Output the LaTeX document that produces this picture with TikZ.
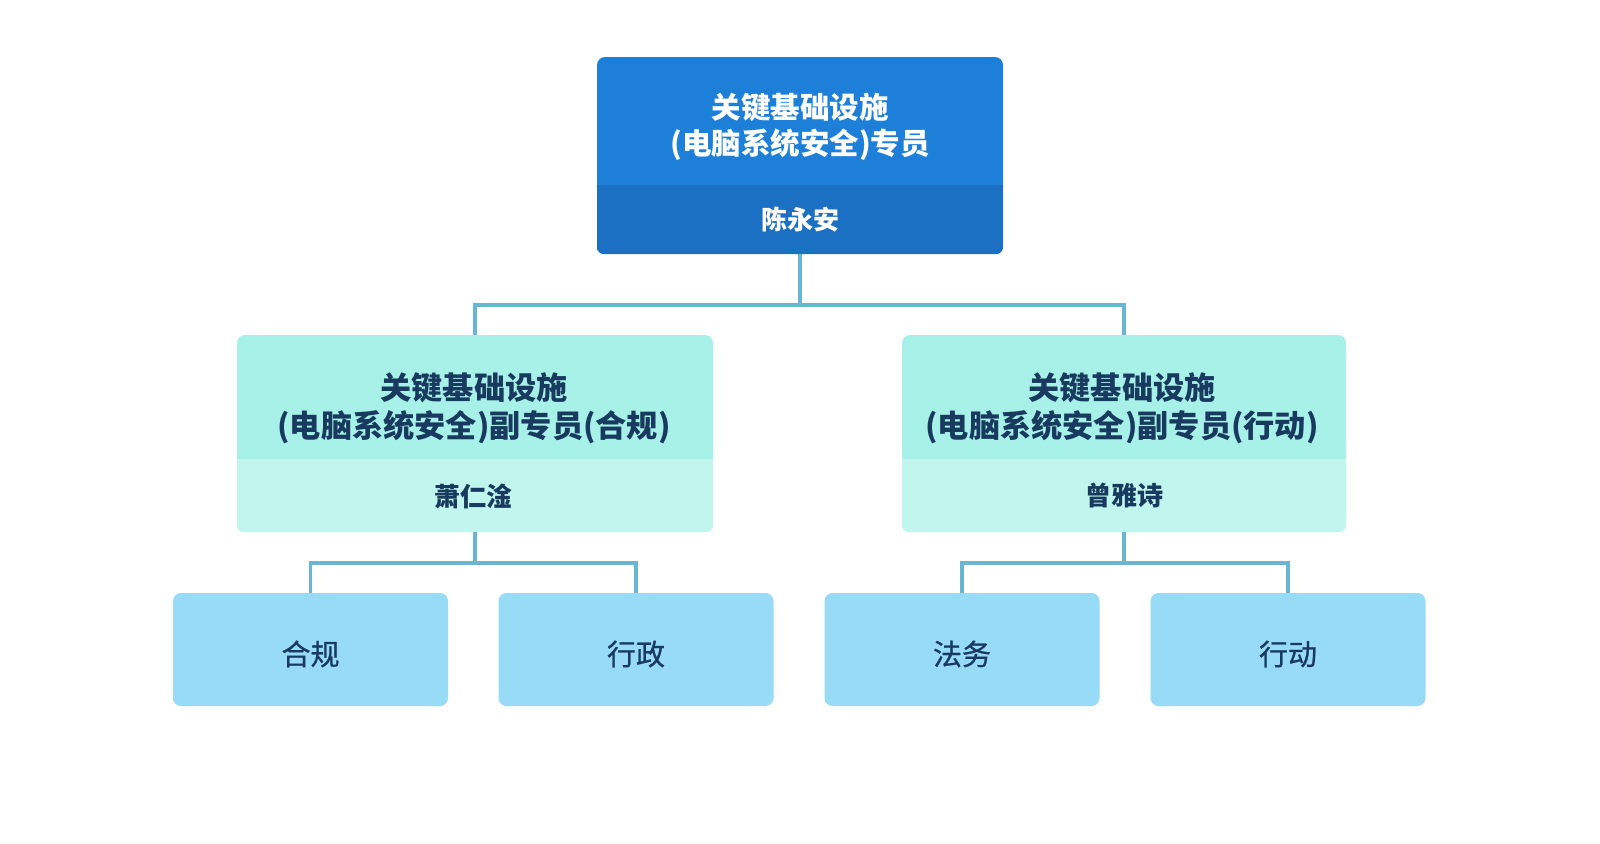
\documentclass[tikz,border=0pt]{standalone}
\usepackage{fontspec}
\setmainfont{Noto Sans CJK SC}
\newfontfamily\unitfont{Noto Sans CJK SC}[FakeBold=0.8]
\usetikzlibrary{positioning}

\definecolor{chiefBlue}{HTML}{1E7FD9}
\definecolor{chiefBand}{HTML}{1B70C3}
\definecolor{deputyTop}{HTML}{A8F1E9}
\definecolor{deputyBand}{HTML}{C1F6EF}
\definecolor{unitBlue}{HTML}{98DBF6}
\definecolor{linkBlue}{HTML}{69B6D4}
\definecolor{inkNavy}{HTML}{173A5E}

\tikzset{
  box/.style={rectangle, rounded corners=4pt, inner sep=0pt, draw=none},
  chiefbox/.style={box, fill=chiefBlue, minimum width=203pt, minimum height=98.5pt},
  deputybox/.style={box, fill=deputyTop, minimum height=98.5pt},
  unitbox/.style={box, fill=unitBlue, minimum width=137.5pt, minimum height=56.5pt,
    text=inkNavy, text height=15.5pt, text depth=0pt,
    font=\unitfont\fontsize{14.5pt}{17pt}\selectfont},
  titletext/.style={align=center, font=\fontsize{14.75pt}{17.9pt}\selectfont\bfseries},
  deputytext/.style={align=center, text=inkNavy, font=\fontsize{15.6pt}{18.9pt}\selectfont\bfseries},
  nametext/.style={font=\fontsize{13pt}{15pt}\selectfont\bfseries},
  link/.style={draw=linkBlue, line width=1.7pt}
}

\begin{document}
\begin{tikzpicture}[x=0.5pt,y=-0.5pt]
    \useasboundingbox (0,0) rectangle (1600,843);
    \fill[white] (0,0) rectangle (1600,843);

    % chief
    \node[chiefbox] (chief) at (800,155.5) {};
    \coordinate (chiefSplit) at (800,185);
    \begin{scope}
      \clip[rounded corners=4pt] (chief.south west) rectangle (chief.north east);
      \fill[chiefBand] (chief.south west) rectangle (chief.east |- chiefSplit);
    \end{scope}
    \node[titletext, text=white] (chiefTitle) at (800,127)
      {关键基础设施\\(电脑系统安全)专员};
    \node[nametext, text=white] (chiefName) at (800,220) {陈永安};

    % deputies
    \node[deputybox, minimum width=238pt] (deputyL) at (475,433.5) {};
    \node[deputybox, minimum width=222pt] (deputyR) at (1124,433.5) {};
    \coordinate (deputySplit) at (800,459);
    \foreach \d in {deputyL,deputyR} {
      \begin{scope}
        \clip[rounded corners=4pt] (\d.south west) rectangle (\d.north east);
        \fill[deputyBand] (\d.south west) rectangle (\d.east |- deputySplit);
      \end{scope}
    }
    \node[deputytext] (deputyLTitle) at (474,408)
      {关键基础设施\\(电脑系统安全)副专员(合规)};
    \node[nametext, text=inkNavy] (deputyLName) at (473,496) {萧仁淦};
    \node[deputytext] (deputyRTitle) at (1122,408)
      {关键基础设施\\(电脑系统安全)副专员(行动)};
    \node[nametext, text=inkNavy] (deputyRName) at (1124,496) {曾雅诗};

    % units
    \node[unitbox] (compliance) at (310.5,649.5) {合规};
    \node[unitbox] (admin) at (636,649.5) {行政};
    \node[unitbox] (legal) at (962,649.5) {法务};
    \node[unitbox] (operations) at (1288,649.5) {行动};

    % links
    \coordinate (busTop) at (800,305);
    \coordinate (busL) at (475,563);
    \coordinate (busR) at (1124,563);
    \draw[link] (chief.south) -- (busTop) -| (deputyL.north);
    \draw[link] (busTop) -| (deputyR.north);
    \draw[link] (deputyL.south) -- (busL) -| (compliance.north);
    \draw[link] (busL) -| (admin.north);
    \draw[link] (deputyR.south) -- (busR) -| (legal.north);
    \draw[link] (busR) -| (operations.north);
\end{tikzpicture}
\end{document}
